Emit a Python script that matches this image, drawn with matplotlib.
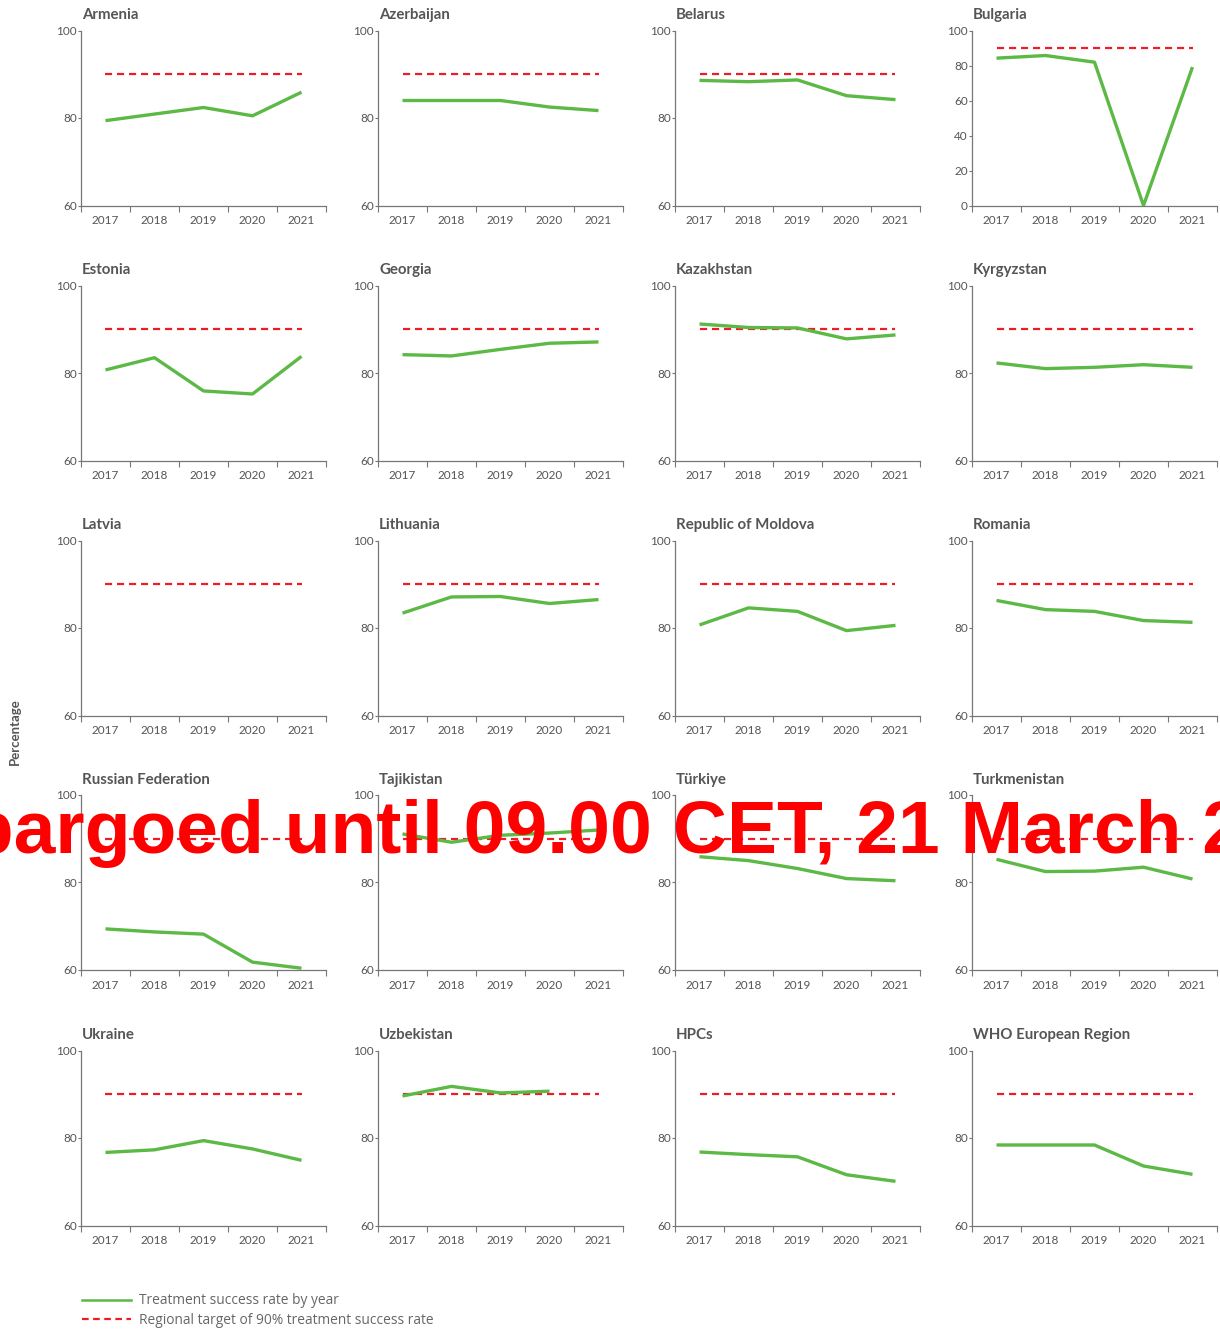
import numpy as np
import matplotlib
matplotlib.use("Agg")
import matplotlib.pyplot as plt
from matplotlib.lines import Line2D

years = ["2017", "2018", "2019", "2020", "2021"]
target = 90

countries = ["Armenia", "Azerbaijan", "Belarus", "Bulgaria",
             "Estonia", "Georgia", "Kazakhstan", "Kyrgyzstan",
             "Latvia", "Lithuania", "Republic of Moldova", "Romania",
             "Russian Federation", "Tajikistan", "Türkiye", "Turkmenistan",
             "Ukraine", "Uzbekistan", "HPCs", "WHO European Region"]

armenia = [79.4, 80.9, 82.4, 80.5, 85.9]
azerbaijan = [84.0, 84.0, 84.0, 82.5, 81.7]
belarus = [88.6, 88.3, 88.7, 85.1, 84.2]
bulgaria = [84.2, 85.7, 81.9, 0.0, 79.1]
estonia = [80.7, 83.5, 75.9, 75.2, 83.8]
georgia = [84.2, 83.9, 85.4, 86.8, 87.1]
kazakhstan = [91.2, 90.4, 90.3, 87.8, 88.7]
kyrgyzstan = [82.3, 81.0, 81.3, 81.9, 81.3]
latvia = [np.nan, np.nan, np.nan, np.nan, np.nan]
lithuania = [83.4, 87.1, 87.2, 85.6, 86.5]
moldova = [80.7, 84.6, 83.8, 79.4, 80.6]
romania = [86.3, 84.2, 83.8, 81.7, 81.3]
russia = [69.4, 68.7, 68.2, 61.8, 60.4]
tajikistan = [91.1, 89.2, 90.8, 91.3, 92.0]
turkiye = [85.9, 85.0, 83.2, 80.9, 80.4]
turkmenistan = [85.3, 82.5, 82.6, 83.5, 80.8]
ukraine = [76.7, 77.3, 79.4, 77.5, 74.9]
uzbekistan = [89.6, 91.8, 90.3, 90.7, np.nan]
hpcs = [76.8, 76.2, 75.7, 71.6, 70.1]
who_europe = [78.4, 78.4, 78.4, 73.6, 71.7]

series = [armenia, azerbaijan, belarus, bulgaria, estonia, georgia, kazakhstan,
          kyrgyzstan, latvia, lithuania, moldova, romania, russia, tajikistan,
          turkiye, turkmenistan, ukraine, uzbekistan, hpcs, who_europe]

green = "#5cb946"
red = "#ee1c25"
grey = "#555555"
axis_grey = "#777777"

W, H = 1220, 1332
fig = plt.figure(figsize=(W / 100, H / 100), dpi=100)

col_left = [81, 378, 675, 972]
row_top = [30.5, 285.5, 540.5, 795, 1050.5]
aw, ah = 245, 175

x = np.arange(len(years))
for i, (name, vals) in enumerate(zip(countries, series)):
    r, c = divmod(i, 4)
    ax = fig.add_axes([col_left[c] / W, 1 - (row_top[r] + ah) / H, aw / W, ah / H])
    ax.plot(x, [target] * len(x), color=red, lw=1.6, ls=(0, (3.2, 2.2)), zorder=2)
    ax.plot(x, vals, color=green, lw=2.4, solid_capstyle="butt", zorder=3)
    ax.set_xlim(-0.5, 4.5)
    if name == "Bulgaria":
        ax.set_ylim(0, 100)
        ax.set_yticks([0, 20, 40, 60, 80, 100])
    else:
        ax.set_ylim(60, 100)
        ax.set_yticks([60, 80, 100])
    ax.set_xticks(np.arange(-0.5, 5, 1))
    ax.set_xticklabels([])
    ax.set_xticks(x, minor=True)
    ax.set_xticklabels(years, minor=True)
    ax.tick_params(axis="x", which="major", length=4, width=0.8, color=axis_grey)
    ax.tick_params(axis="x", which="minor", length=0, pad=7, labelsize=8.5, labelcolor=grey)
    ax.tick_params(axis="y", length=2, width=0.8, color=axis_grey, pad=1, labelsize=8.5, labelcolor=grey)
    for lab in ax.get_xticklabels(minor=True) + ax.get_yticklabels():
        lab.set_fontfamily("Lato")
    for s in ["top", "right"]:
        ax.spines[s].set_visible(False)
    for s in ["left", "bottom"]:
        ax.spines[s].set_color(axis_grey)
        ax.spines[s].set_linewidth(0.9)
    ax.text(0.005, 1.065, name, transform=ax.transAxes, fontsize=10.8, fontweight="bold",
            color=grey, fontfamily="Lato", ha="left", va="baseline")

fig.text(15 / W, 1 - 732 / H, "Percentage", rotation=90, ha="center", va="center",
         fontsize=9.5, fontweight="bold", color=grey, fontfamily="Lato")

handles = [Line2D([], [], color=green, lw=1.8),
           Line2D([], [], color=red, lw=1.6, ls=(0, (3, 2)))]
fig.legend(handles, ["Treatment success rate by year",
                     "Regional target of 90% treatment success rate"],
           loc="upper left", bbox_to_anchor=(70 / W, 1 - 1281 / H), frameon=False,
           handlelength=3.5, handletextpad=0.65, labelspacing=0.35,
           prop={"family": "Open Sans", "size": 9.9}, labelcolor="#666666")

fig.text(0.5, 1 - 853 / H, "Embargoed until 09.00 CET, 21 March 2023", ha="center",
         va="baseline", fontsize=54, fontweight="bold", color="#ff0000",
         fontfamily="Liberation Sans", zorder=10)

fig.savefig("out.png", dpi=100)
